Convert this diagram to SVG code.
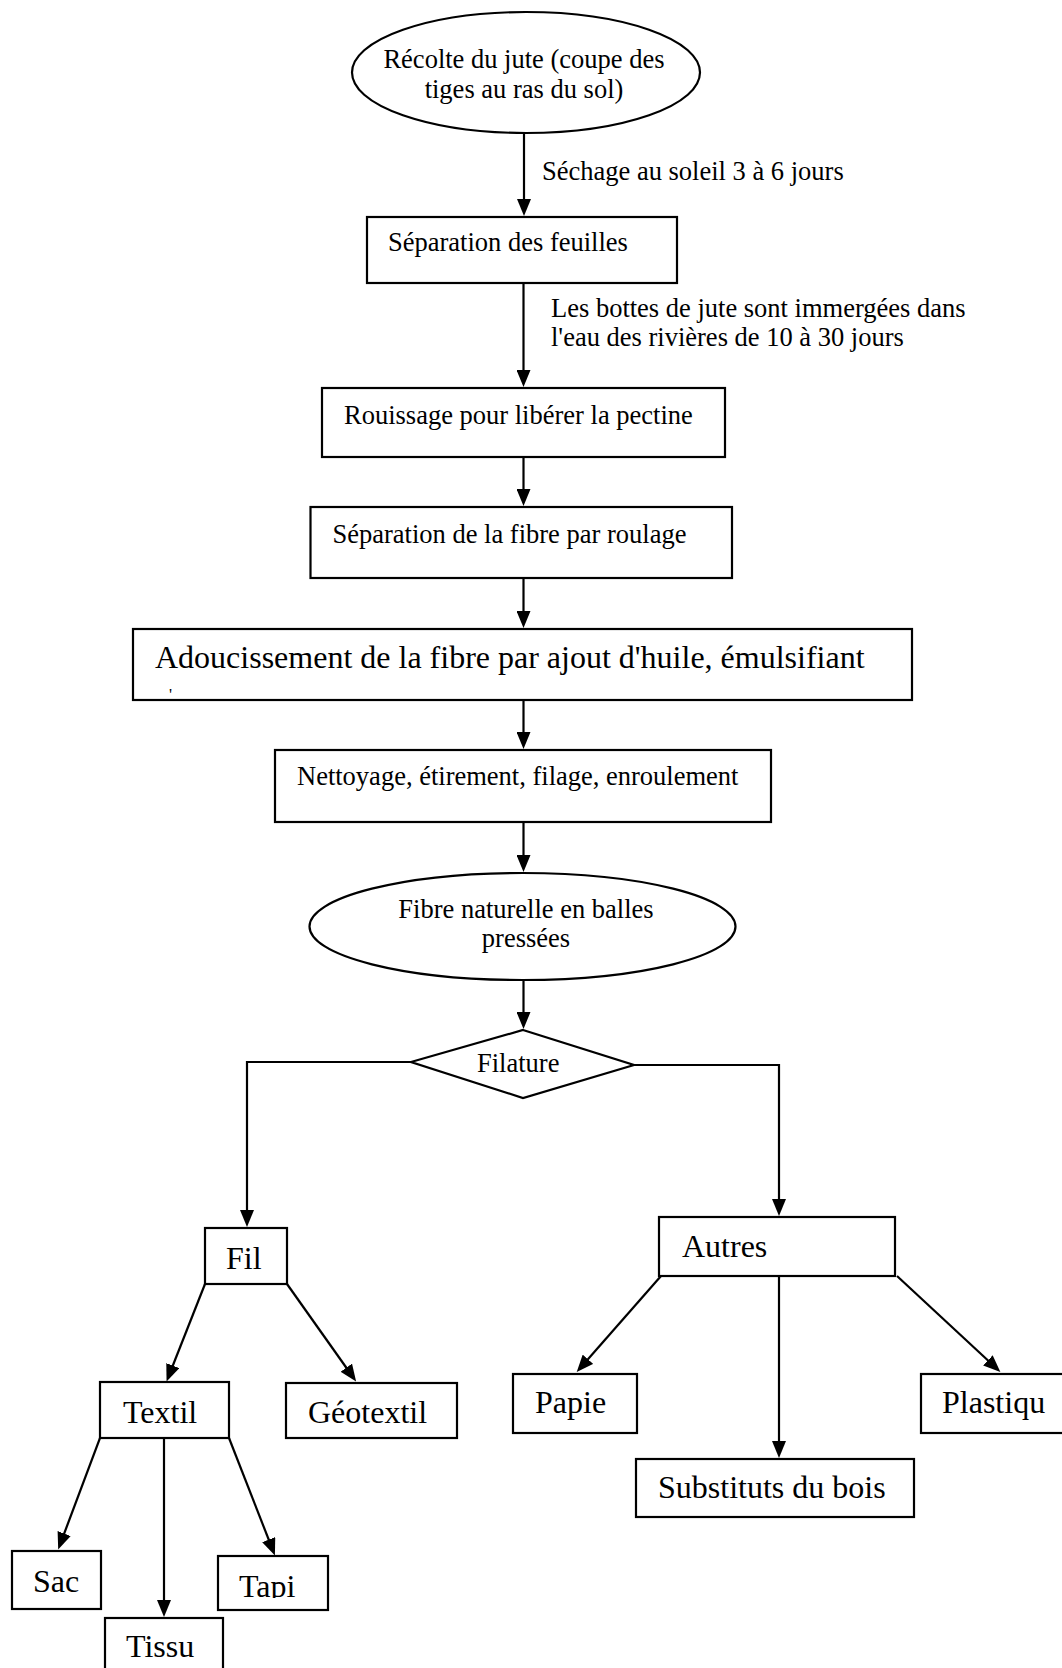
<svg xmlns="http://www.w3.org/2000/svg" width="1062" height="1668" viewBox="0 0 1062 1668">
<style>
.n{fill:#fff;stroke:#000;stroke-width:2.2}
.t{font-family:"Liberation Serif","Times New Roman",serif;font-size:26.5px;fill:#000}
.b{font-family:"Liberation Serif","Times New Roman",serif;font-size:32px;fill:#000}
.c{fill:none;stroke:#000;stroke-width:2.2}
</style>
<defs>
<marker id="ah" markerWidth="17" markerHeight="14" refX="9" refY="7" orient="auto" markerUnits="userSpaceOnUse">
<path d="M0,0 L17,7 L0,14 z" fill="#000"/>
</marker>
<clipPath id="tapiClip"><rect x="218" y="1556" width="110" height="42"/></clipPath>
</defs>
<rect width="1062" height="1668" fill="#fff"/>

<g id="connectors">
<line class="c" x1="524" y1="133" x2="524" y2="208" marker-end="url(#ah)"/>
<line class="c" x1="523.5" y1="283" x2="523.5" y2="379" marker-end="url(#ah)"/>
<line class="c" x1="523.5" y1="457" x2="523.5" y2="498" marker-end="url(#ah)"/>
<line class="c" x1="523.5" y1="578" x2="523.5" y2="620" marker-end="url(#ah)"/>
<line class="c" x1="523.5" y1="700" x2="523.5" y2="741" marker-end="url(#ah)"/>
<line class="c" x1="523.5" y1="822" x2="523.5" y2="864" marker-end="url(#ah)"/>
<line class="c" x1="523.5" y1="980" x2="523.5" y2="1021" marker-end="url(#ah)"/>
<polyline class="c" points="411,1062 247,1062 247,1219" marker-end="url(#ah)"/>
<polyline class="c" points="634,1065 779,1065 779,1208" marker-end="url(#ah)"/>
<line class="c" x1="205" y1="1284" x2="169.5" y2="1374" marker-end="url(#ah)"/>
<line class="c" x1="287" y1="1284" x2="351.5" y2="1375" marker-end="url(#ah)"/>
<line class="c" x1="100" y1="1438" x2="61" y2="1542" marker-end="url(#ah)"/>
<line class="c" x1="164" y1="1438" x2="164" y2="1609" marker-end="url(#ah)"/>
<line class="c" x1="229" y1="1438" x2="272" y2="1548" marker-end="url(#ah)"/>
<line class="c" x1="661" y1="1276" x2="582" y2="1366" marker-end="url(#ah)"/>
<line class="c" x1="779" y1="1276" x2="779" y2="1450" marker-end="url(#ah)"/>
<line class="c" x1="897" y1="1276" x2="994.5" y2="1366.5" marker-end="url(#ah)"/>
</g>

<g id="recolte">
<ellipse class="n" cx="526" cy="72.5" rx="174" ry="60.5"/>
<text class="t" x="524" y="68" text-anchor="middle">Récolte du jute (coupe des</text>
<text class="t" x="524" y="98" text-anchor="middle">tiges au ras du sol)</text>
</g>
<g id="label-sechage">
<text class="t" x="542" y="180">Séchage au soleil 3 à 6 jours</text>
</g>
<g id="separation-feuilles">
<rect class="n" x="367" y="217" width="310" height="66"/>
<text class="t" x="388" y="251">Séparation des feuilles</text>
</g>
<g id="label-bottes">
<text class="t" x="551" y="317">Les bottes de jute sont immergées dans</text>
<text class="t" x="551" y="346">l'eau des rivières de 10 à 30 jours</text>
</g>
<g id="rouissage">
<rect class="n" x="322" y="388" width="403" height="69"/>
<text class="t" x="344" y="424">Rouissage pour libérer la pectine</text>
</g>
<g id="separation-fibre">
<rect class="n" x="310.5" y="507" width="421.5" height="71"/>
<text class="t" x="332.5" y="543">Séparation de la fibre par roulage</text>
</g>
<g id="adoucissement">
<rect class="n" x="133" y="629" width="779" height="71"/>
<text class="b" x="155" y="668">Adoucissement de la fibre par ajout d'huile, émulsifiant</text>
<text class="t" x="169" y="700" style="font-size:17px">'</text>
</g>
<g id="nettoyage">
<rect class="n" x="275" y="750" width="496" height="72"/>
<text class="t" x="297" y="785">Nettoyage, étirement, filage, enroulement</text>
</g>
<g id="fibre-naturelle">
<ellipse class="n" cx="522.5" cy="926.5" rx="213" ry="53.5"/>
<text class="t" x="526" y="918" text-anchor="middle">Fibre naturelle en balles</text>
<text class="t" x="526" y="947" text-anchor="middle">pressées</text>
</g>
<g id="filature">
<polygon class="n" points="523,1030 634,1065 523,1098 411,1062"/>
<text class="t" x="477" y="1072">Filature</text>
</g>
<g id="fil">
<rect class="n" x="205" y="1228" width="82" height="56"/>
<text class="b" x="226" y="1269">Fil</text>
</g>
<g id="autres">
<rect class="n" x="659" y="1217" width="236" height="59"/>
<text class="b" x="682" y="1257">Autres</text>
</g>
<g id="textil">
<rect class="n" x="100" y="1382" width="129" height="56"/>
<text class="b" x="123" y="1423">Textil</text>
</g>
<g id="geotextil">
<rect class="n" x="286" y="1383" width="171" height="55"/>
<text class="b" x="308" y="1423">Géotextil</text>
</g>
<g id="sac">
<rect class="n" x="12" y="1551" width="89" height="58"/>
<text class="b" x="33" y="1592">Sac</text>
</g>
<g id="tapi">
<rect class="n" x="218" y="1556" width="110" height="54"/>
<text class="b" x="239" y="1597" clip-path="url(#tapiClip)">Tapi</text>
</g>
<g id="tissu">
<rect class="n" x="105" y="1618" width="118" height="80"/>
<text class="b" x="126" y="1657">Tissu</text>
</g>
<g id="papie">
<rect class="n" x="513" y="1374" width="124" height="59"/>
<text class="b" x="535" y="1413">Papie</text>
</g>
<g id="plastiqu">
<rect class="n" x="921" y="1374" width="160" height="59"/>
<text class="b" x="942" y="1413">Plastiqu</text>
</g>
<g id="substituts">
<rect class="n" x="636" y="1459" width="278" height="58"/>
<text class="b" x="658" y="1498">Substituts du bois</text>
</g>
</svg>
